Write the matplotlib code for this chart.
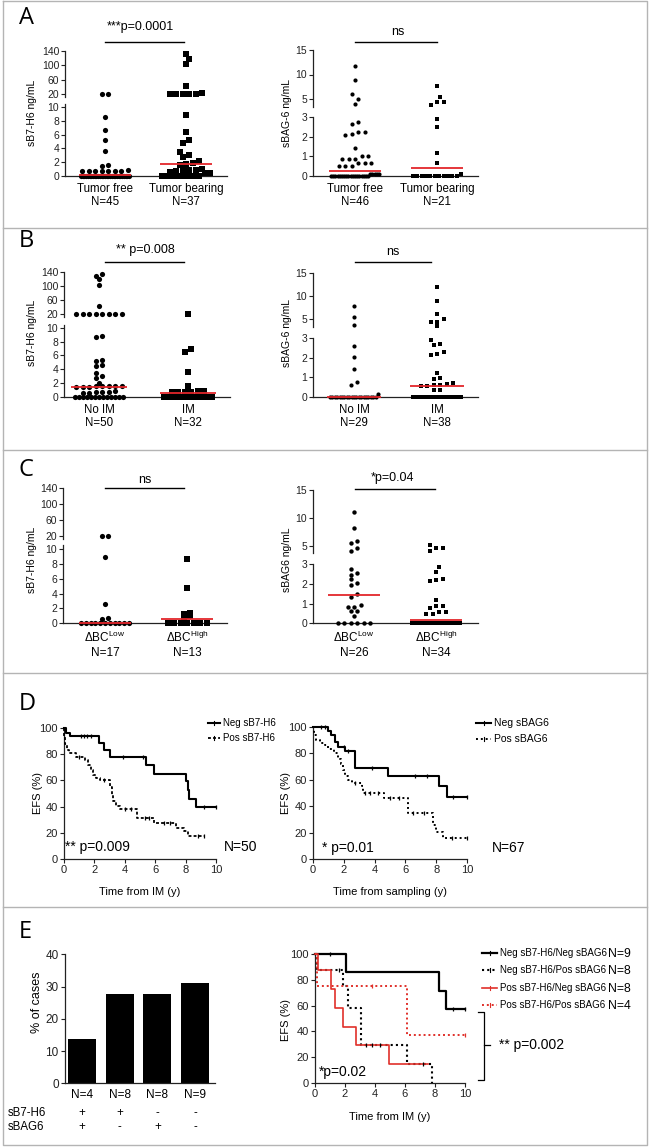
import numpy as np
import matplotlib
matplotlib.use("Agg")
import matplotlib.pyplot as plt
from matplotlib.lines import Line2D
from matplotlib.transforms import blended_transform_factory

plt.rcParams['font.family'] = ['Liberation Sans', 'DejaVu Sans']

# ---------------- data ----------------
# Panel A
a_h6_cats = ["Tumor free\nN=45", "Tumor bearing\nN=37"]
a_h6_free = [21, 20, 8.5, 6.7, 5.2, 3.6, 1.6, 1.5, 0.8, 0.7, 0.7, 0.7, 0.7, 0.7, 0.7, 0.7,
             0, 0, 0, 0, 0, 0, 0, 0, 0, 0, 0, 0, 0, 0, 0, 0, 0, 0, 0, 0, 0, 0, 0, 0, 0, 0, 0, 0, 0]
a_h6_bear = [131, 117, 103, 42, 22, 20, 20, 20, 20, 20, 8.8, 6.4, 5.2, 4.8, 3.5, 3.1, 2.8, 2.2,
             1.9, 1.7, 1.6, 1.0, 0.9, 0.9, 0.8, 0.7, 0.6, 0.5, 0.4, 0, 0, 0, 0, 0, 0, 0, 0]
a_h6_med = [0.15, 1.75]
a_bag_cats = ["Tumor free\nN=46", "Tumor bearing\nN=21"]
a_bag_free = [11.8, 8.8, 6.0, 5.1, 4.0, 2.76, 2.64, 2.25, 2.25, 2.13, 2.08, 1.4, 1.0, 1.0,
              0.85, 0.85, 0.85, 0.64, 0.64, 0.64, 0.52, 0.52, 0.52, 0.1, 0.1, 0.1, 0.1, 0.1,
              0, 0, 0, 0, 0, 0, 0, 0, 0, 0, 0, 0, 0, 0, 0, 0, 0, 0]
a_bag_bear = [7.7, 5.5, 4.45, 4.45, 3.8, 2.9, 2.47, 1.18, 0.64, 0.1, 0, 0, 0, 0, 0, 0, 0, 0, 0, 0, 0]
a_bag_med = [0.27, 0.39]

# Panel B
b_h6_cats = ["No IM\nN=50", "IM\nN=32"]
b_h6_noim = [135, 130, 120, 104, 44, 22, 21, 20, 20, 20, 20, 20, 20, 8.8, 8.6, 5.3, 5.2, 4.6,
             4.5, 3.5, 3.0, 2.7, 2.0, 1.6, 1.6, 1.5, 1.5, 1.5, 1.4, 1.4, 1.4, 0.8, 0.7, 0.7,
             0.7, 0.6, 0.6, 0, 0, 0, 0, 0, 0, 0, 0, 0, 0, 0, 0, 0]
b_h6_im = [20, 6.9, 6.5, 3.6, 1.55, 0.8, 0.8, 0.75, 0.7, 0.7, 0.7,
           0, 0, 0, 0, 0, 0, 0, 0, 0, 0, 0, 0, 0, 0, 0, 0, 0, 0, 0, 0, 0]
b_h6_med = [1.35, 0.58]
b_bag_cats = ["No IM\nN=29", "IM\nN=38"]
b_bag_noim = [7.8, 5.55, 3.8, 2.6, 2.05, 1.4, 0.77, 0.6, 0.14,
              0, 0, 0, 0, 0, 0, 0, 0, 0, 0, 0, 0, 0, 0, 0, 0, 0, 0, 0, 0]
b_bag_im = [11.9, 8.9, 6.06, 5.0, 4.5, 4.5, 3.6, 2.9, 2.7, 2.65, 2.28, 2.2, 2.14, 1.2, 0.97,
            0.93, 0.7, 0.65, 0.6, 0.6, 0.55, 0.55, 0.35, 0.35,
            0, 0, 0, 0, 0, 0, 0, 0, 0, 0, 0, 0, 0, 0]
b_bag_med = [0.0, 0.56]

# Panel C
c_h6_cats = ["ΔBC$^{\\mathregular{Low}}$\nN=17", "ΔBC$^{\\mathregular{High}}$\nN=13"]
c_h6_low = [20, 19, 8.9, 2.6, 0.75, 0.6, 0, 0, 0, 0, 0, 0, 0, 0, 0, 0, 0]
c_h6_high = [8.7, 4.7, 1.4, 1.2, 1.0, 0.6, 0, 0, 0, 0, 0, 0, 0]
c_h6_med = [0.0, 0.6]
c_bag_cats = ["ΔBC$^{\\mathregular{Low}}$\nN=26", "ΔBC$^{\\mathregular{High}}$\nN=34"]
c_bag_low = [11.0, 8.3, 5.9, 5.5, 4.6, 4.1, 2.74, 2.54, 2.45, 2.25, 2.06, 1.94, 1.47, 1.35,
             0.93, 0.84, 0.84, 0.64, 0.64, 0.39, 0, 0, 0, 0, 0, 0]
c_bag_high = [5.2, 4.6, 4.6, 4.1, 2.87, 2.62, 2.23, 2.2, 2.16, 1.18, 0.9, 0.88, 0.79, 0.6, 0.6,
              0.45, 0.45, 0, 0, 0, 0, 0, 0, 0, 0, 0, 0, 0, 0, 0, 0, 0, 0, 0]
c_bag_med = [1.43, 0.17]

# Panel D (Kaplan-Meier)
d1_neg_t = [0, 0.15, 0.4, 2.3, 2.65, 3.0, 5.4, 5.95, 8.05, 8.15, 8.25, 8.7, 10]
d1_neg_s = [100, 96, 94, 88.5, 83.5, 78, 72, 65, 59.5, 53, 45.5, 39.5, 39.5]
d1_neg_c = [1.1, 1.3, 1.5, 1.8, 3.85, 5.2, 9.2, 10]
d1_pos_t = [0, 0.03, 0.08, 0.2, 0.35, 0.8, 1.35, 1.6, 1.75, 1.9, 2.1, 2.35, 3.0, 3.15, 3.25,
            3.4, 3.7, 4.8, 5.95, 7.4, 7.9, 8.15, 9.2]
d1_pos_s = [100, 93, 88, 83.5, 81, 78, 75.5, 72, 68, 64.5, 61.5, 60, 55, 49, 44, 40.5, 38.5,
            31, 27.5, 24, 21, 17.5, 17.5]
d1_pos_c = [1.0, 2.6, 4.0, 4.4, 5.3, 5.6, 6.6, 7.0, 8.8, 9.2]
d2_neg_t = [0, 0.97, 1.2, 1.4, 1.6, 2.05, 2.7, 4.9, 8.2, 8.7, 10]
d2_neg_s = [100, 97, 94, 89, 85, 81.5, 69, 63, 55, 47, 47]
d2_neg_c = [0.5, 0.8, 2.0, 2.3, 3.8, 6.6, 7.4, 9.1, 10]
d2_pos_t = [0, 0.05, 0.2, 0.45, 0.75, 1.0, 1.35, 1.6, 1.8, 1.95, 2.1, 2.25, 2.5, 3.2, 3.25,
            4.6, 6.15, 7.8, 8.0, 8.45, 10]
d2_pos_s = [100, 94, 90, 88, 86, 83.5, 80, 76, 72, 67.5, 63, 59.5, 57.5, 55, 50, 46, 35, 26,
            20.7, 15.6, 15.6]
d2_pos_c = [2.7, 3.4, 3.7, 4.2, 5.0, 5.6, 6.5, 7.2, 9.0, 10]

# Panel E
e_bar_labels = ["N=4", "N=8", "N=8", "N=9"]
e_bar_values = [13.8, 27.6, 27.6, 31.0]
e_sb7 = ["+", "+", "-", "-"]
e_sbag = ["+", "-", "+", "-"]
e_nn_t = [0, 2.05, 8.25, 8.7, 10]
e_nn_s = [100, 85.7, 71.4, 57.1, 57.1]
e_nn_c = [1.0, 9.2, 10]
e_np_t = [0, 0.1, 1.85, 2.2, 3.05, 6.1, 7.8]
e_np_s = [100, 87.5, 75, 58.3, 29.2, 14.6, 0]
e_np_c = [1.6, 3.4, 3.8, 4.3, 7.2]
e_pn_t = [0, 0.22, 1.05, 1.3, 1.85, 2.7, 4.9, 7.5]
e_pn_s = [100, 87.5, 72.9, 58.3, 43.7, 29.2, 14.6, 14.6]
e_pp_t = [0, 0.1, 6.1, 10]
e_pp_s = [100, 75, 37.5, 37.5]
e_pp_c = [3.8, 10]
e_legend = ["Neg sB7-H6/Neg sBAG6", "Neg sB7-H6/Pos sBAG6", "Pos sB7-H6/Neg sBAG6", "Pos sB7-H6/Pos sBAG6"]
e_legend_n = ["N=9", "N=8", "N=8", "N=4"]

# ---------------- helpers ----------------
W, H = 652, 1147
fig = plt.figure(figsize=(W / 100, H / 100), dpi=100)
RED = '#e3262b'
AXC = '#222222'


def fx(x):
    return x / W


def fy(y):
    return 1 - y / H


def add_axes_px(x0, x1, ytop, ybot):
    return fig.add_axes([fx(x0), fy(ybot), (x1 - x0) / W, (ybot - ytop) / H])


def ftext(x, y, s, **kw):
    kw.setdefault('ha', 'center')
    kw.setdefault('va', 'center')
    fig.text(fx(x), fy(y), s, **kw)


def fline(xs, ys, **kw):
    kw.setdefault('color', 'black')
    kw.setdefault('lw', 1.0)
    fig.add_artist(Line2D([fx(x) for x in xs], [fy(y) for y in ys], **kw))


def make_seg(p_bot, p_top, v1, p1, v2, p2):
    k = (v2 - v1) / (p2 - p1)
    return dict(pb=p_bot, pt=p_top, k=k, v1=v1, p1=p1,
                lim=(v1 + (p_bot - p1) * k, v1 + (p_top - p1) * k))


def val2px(seg, v):
    return seg['p1'] + (v - seg['v1']) / seg['k']


def style_ax(ax):
    for sp in ['top', 'right']:
        ax.spines[sp].set_visible(False)
    for sp in ['left', 'bottom']:
        ax.spines[sp].set_linewidth(0.9)
        ax.spines[sp].set_color(AXC)
    ax.patch.set_alpha(0)


def swarm_offsets(px, d=6.5, maxw=48.0, mind=5.5):
    """Horizontal pixel offsets for a GraphPad-like column scatter."""
    order = np.argsort(-px, kind='stable')
    rows = []
    for i in order:
        if rows and abs(px[rows[-1][0]] - px[i]) < 3.5:
            rows[-1].append(i)
        else:
            rows.append([i])
    offs = np.zeros(len(px))
    placed = []
    for row in rows:
        n = len(row)
        if n == 1:
            i = row[0]
            cands = [0.0]
            for k in range(1, 8):
                cands += [k * d / 2, -k * d / 2]
            for c in cands:
                if all((c - ox) ** 2 + (px[i] - oy) ** 2 >= mind ** 2 for ox, oy in placed):
                    offs[i] = c
                    break
            placed.append((offs[i], px[i]))
        else:
            dd = min(d, maxw / (n - 1))
            for j, i in enumerate(row):
                offs[i] = (j - (n - 1) / 2) * dd
                placed.append((offs[i], px[i]))
    return offs


def scatter_panel(x0, x1, centers, low, up, groups, markers, sizes, medians,
                  lticks, uticks, cats, catsize=8.3):
    lo = make_seg(*low)
    hi = make_seg(*up)
    u = centers[1] - centers[0]
    xlim = ((x0 - centers[0]) / u, (x1 - centers[0]) / u)
    axl = add_axes_px(x0, x1, lo['pt'], lo['pb'])
    axu = add_axes_px(x0, x1, hi['pt'], hi['pb'])
    for ax, seg, ticks in ((axl, lo, lticks), (axu, hi, uticks)):
        style_ax(ax)
        ax.set_xlim(xlim)
        ax.set_ylim(seg['lim'])
        ax.set_yticks(ticks)
        ax.tick_params(axis='y', length=3, width=0.8, pad=1.2, labelsize=7.5, colors=AXC)
    axu.spines['bottom'].set_visible(False)
    axu.set_xticks([])
    axl.set_xticks([0, 1])
    axl.set_xticklabels(cats, fontsize=catsize, linespacing=1.15)
    axl.tick_params(axis='x', length=0, pad=5)
    for gi, (vals, mk, ms) in enumerate(zip(groups, markers, sizes)):
        vals = np.asarray(vals, float)
        px = np.array([val2px(lo, v) if v <= lo['lim'][1] else val2px(hi, v) for v in vals])
        x = gi + swarm_offsets(px) / u
        m = vals <= lo['lim'][1]
        axl.scatter(x[m], vals[m], marker=mk, s=ms, c='black', linewidths=0, clip_on=False, zorder=3)
        axu.scatter(x[~m], vals[~m], marker=mk, s=ms, c='black', linewidths=0, clip_on=False, zorder=3)
        axl.hlines(medians[gi], gi - 0.32, gi + 0.32, colors=RED, lw=1.3, zorder=5, clip_on=False)
    return axl, axu


def km_axes(x0, x1, ytop, ybot, fs=8):
    ax = add_axes_px(x0, x1, ytop, ybot)
    style_ax(ax)
    ax.set_xlim(0, 10)
    ax.set_ylim(0, 100)
    ax.set_xticks(range(0, 11, 2))
    ax.set_yticks(range(0, 101, 20))
    ax.tick_params(length=3, width=0.8, pad=1.5, labelsize=fs, colors=AXC)
    return ax


def km_plot(ax, t, s, color, ls, lw, cens=None):
    ax.step(t, s, where='post', color=color, linestyle=ls, lw=lw, clip_on=False, zorder=3)
    if cens is not None and len(cens):
        t_arr = np.asarray(t, float)
        s_arr = np.asarray(s, float)
        idx = np.searchsorted(t_arr, cens, side='right') - 1
        ax.plot(cens, s_arr[idx], ls='none', marker='|', ms=3.5, mew=0.9, color=color,
                clip_on=False, zorder=4)


def legend_row(x0, x1, y, text, color, ls, lw, fs, tx):
    fline([x0, x1], [y, y], color=color, ls=ls, lw=lw)
    fline([(x0 + x1) / 2, (x0 + x1) / 2], [y - 2, y + 2], color=color, lw=0.8)
    ftext(tx, y, text, ha='left', fontsize=fs)


# ---------------- frame ----------------
GRAY = '#b4b4b4'
fline([3, 647, 647, 3, 3], [1, 1, 1145, 1145, 1], color=GRAY, lw=1.0)
for yy in [228, 450, 673, 907]:
    fline([3, 647], [yy, yy], color=GRAY, lw=1.0)

for lab, yy in zip("ABCDE", [18, 241, 470, 704, 932]):
    ftext(19, yy, lab, ha='left', fontsize=17, family=['Open Sans', 'DejaVu Sans'])

# ---------------- Panel A ----------------
scatter_panel(65, 227, (105, 186), (176, 104, 0, 176, 10, 107), (97, 51, 20, 94, 140, 51),
              [a_h6_free, a_h6_bear], ['o', 's'], [14, 13], a_h6_med,
              [0, 2, 4, 6, 8, 10], [20, 60, 100, 140], a_h6_cats)
ftext(32, 113, "sB7-H6 ng/mL", rotation=90, fontsize=7.5)
fline([105, 184], [41.7, 41.7], lw=1.0)
ftext(140, 27, "***p=0.0001", fontsize=9)

scatter_panel(313, 478, (355, 437), (176, 117, 0, 176, 3, 117), (107, 50, 5, 99, 15, 50),
              [a_bag_free, a_bag_bear], ['o', 's'], [9, 10], a_bag_med,
              [0, 1, 2, 3], [5, 10, 15], a_bag_cats)
ftext(287, 113, "sBAG-6 ng/mL", rotation=90, fontsize=7.5)
fline([355, 437], [41.7, 41.7], lw=1.0)
ftext(398, 32, "ns", fontsize=9)

# ---------------- Panel B ----------------
scatter_panel(64, 230, (99, 188), (396.7, 325, 0, 396.7, 10, 327.7), (317, 272.3, 20, 314.3, 140, 272.3),
              [b_h6_noim, b_h6_im], ['o', 's'], [14, 13], b_h6_med,
              [0, 2, 4, 6, 8, 10], [20, 60, 100, 140], b_h6_cats)
ftext(32, 333, "sB7-H6 ng/mL", rotation=90, fontsize=7.5)
fline([105, 184], [262.3, 262.3], lw=1.0)
ftext(145, 250, "** p=0.008", fontsize=9)

scatter_panel(313, 478, (354, 437), (396.7, 338.3, 0, 396.7, 3, 338.3), (327, 272.7, 5, 319.3, 15, 272.7),
              [b_bag_noim, b_bag_im], ['o', 's'], [9, 10], b_bag_med,
              [0, 1, 2, 3], [5, 10, 15], b_bag_cats)
ftext(287, 333, "sBAG-6 ng/mL", rotation=90, fontsize=7.5)
fline([355, 431], [262.3, 262.3], lw=1.0)
ftext(393, 252, "ns", fontsize=9)

# ---------------- Panel C ----------------
scatter_panel(63, 227, (105, 187), (623.3, 545, 0, 623.3, 10, 549), (539, 487.7, 20, 536, 140, 487.7),
              [c_h6_low, c_h6_high], ['o', 's'], [14, 13], c_h6_med,
              [0, 2, 4, 6, 8, 10], [20, 60, 100, 140], c_h6_cats, catsize=8.5)
ftext(32, 560, "sB7-H6 ng/mL", rotation=90, fontsize=7.5)
fline([105, 184], [488.3, 488.3], lw=1.0)
ftext(145, 480, "ns", fontsize=9)

scatter_panel(313, 478, (354, 436), (623.3, 564.3, 0, 623.3, 3, 564.3), (553, 490, 5, 546, 15, 490),
              [c_bag_low, c_bag_high], ['o', 's'], [10, 11], c_bag_med,
              [0, 1, 2, 3], [5, 10, 15], c_bag_cats, catsize=8.5)
ftext(287, 560, "sBAG6 ng/mL", rotation=90, fontsize=7.5)
fline([355, 435], [489.3, 489.3], lw=1.0)
ftext(392, 478, "*p=0.04", fontsize=9)

# ---------------- Panel D ----------------
DASH = (0, (1.6, 1.2))
DOT = (0, (1.0, 1.5))
ax = km_axes(64, 216, 728, 859)
km_plot(ax, d1_neg_t, d1_neg_s, 'black', '-', 1.5, d1_neg_c)
km_plot(ax, d1_pos_t, d1_pos_s, 'black', DASH, 1.3, d1_pos_c)
ftext(38, 793, "EFS (%)", rotation=90, fontsize=8)
ftext(140, 892, "Time from IM (y)", fontsize=8)
ftext(65, 847, "** p=0.009", ha='left', fontsize=10)
ftext(224, 847, "N=50", ha='left', fontsize=10)
legend_row(208, 220, 723, "Neg sB7-H6", 'black', '-', 1.5, 7, 223)
legend_row(208, 220, 738, "Pos sB7-H6", 'black', DASH, 1.3, 7, 223)

ax = km_axes(313, 467, 727, 859)
km_plot(ax, d2_neg_t, d2_neg_s, 'black', '-', 1.5, d2_neg_c)
km_plot(ax, d2_pos_t, d2_pos_s, 'black', DOT, 1.4, d2_pos_c)
ftext(286, 793, "EFS (%)", rotation=90, fontsize=8)
ftext(390, 892, "Time from sampling (y)", fontsize=8)
ftext(322, 848, "* p=0.01", ha='left', fontsize=10)
ftext(492, 848, "N=67", ha='left', fontsize=10)
legend_row(476, 491, 723, "Neg sBAG6", 'black', '-', 1.5, 7.5, 494)
legend_row(476, 491, 739, "Pos sBAG6", 'black', DOT, 1.4, 7.5, 494)

# ---------------- Panel E ----------------
centers_px = [82, 122, 158, 195]
u = (centers_px[-1] - centers_px[0]) / 3
axb = add_axes_px(65, 215, 954.3, 1083.3)
style_ax(axb)
axb.bar(range(len(e_bar_values)), e_bar_values, width=0.74, color='black')
axb.set_xlim((65 - centers_px[0]) / u, (215 - centers_px[0]) / u)
axb.set_ylim(0, 40)
axb.set_yticks([0, 10, 20, 30, 40])
axb.set_xticks(range(4))
axb.set_xticklabels(e_bar_labels, fontsize=8.5)
axb.tick_params(axis='x', length=0, pad=4)
axb.tick_params(axis='y', length=3, width=0.8, pad=1.5, labelsize=8.5, colors=AXC)
ftext(37, 1002, "% of cases", rotation=90, fontsize=9)
tr = blended_transform_factory(axb.transData, fig.transFigure)
ftext(8, 1113, "sB7-H6", ha='left', fontsize=8.3)
ftext(8, 1127, "sBAG6", ha='left', fontsize=8.3)
for i, (s1, s2) in enumerate(zip(e_sb7, e_sbag)):
    fig.text(i, fy(1113), s1, transform=tr, ha='center', va='center', fontsize=8.3)
    fig.text(i, fy(1127), s2, transform=tr, ha='center', va='center', fontsize=8.3)

ax = km_axes(315, 465, 954, 1083)
RED2 = '#e0302a'
km_plot(ax, e_nn_t, e_nn_s, 'black', '-', 1.6, e_nn_c)
km_plot(ax, e_np_t, e_np_s, 'black', DOT, 1.5, e_np_c)
km_plot(ax, e_pn_t, e_pn_s, RED2, '-', 1.2)
km_plot(ax, e_pp_t, e_pp_s, RED2, DOT, 1.4, e_pp_c)
ftext(286, 1020, "EFS (%)", rotation=90, fontsize=8)
ftext(390, 1117, "Time from IM (y)", fontsize=8)
ftext(319, 1072, "*p=0.02", ha='left', fontsize=10)
styles = [('black', '-', 1.6), ('black', DOT, 1.5), (RED2, '-', 1.2), (RED2, DOT, 1.4)]
for (col, ls, lw), lab, nlab, yy in zip(styles, e_legend, e_legend_n, [953, 970, 988, 1005]):
    legend_row(482, 497, yy, lab, col, ls, lw, 7.0, 500)
    ftext(608, yy + 1, nlab, ha='left', fontsize=8.8)
fline([478, 484, 484, 478], [1012, 1012, 1080, 1080], lw=0.9)
fline([484, 490], [1045, 1045], lw=0.9)
ftext(499, 1045, "** p=0.002", ha='left', fontsize=10)

fig.savefig("out.png", dpi=100)
